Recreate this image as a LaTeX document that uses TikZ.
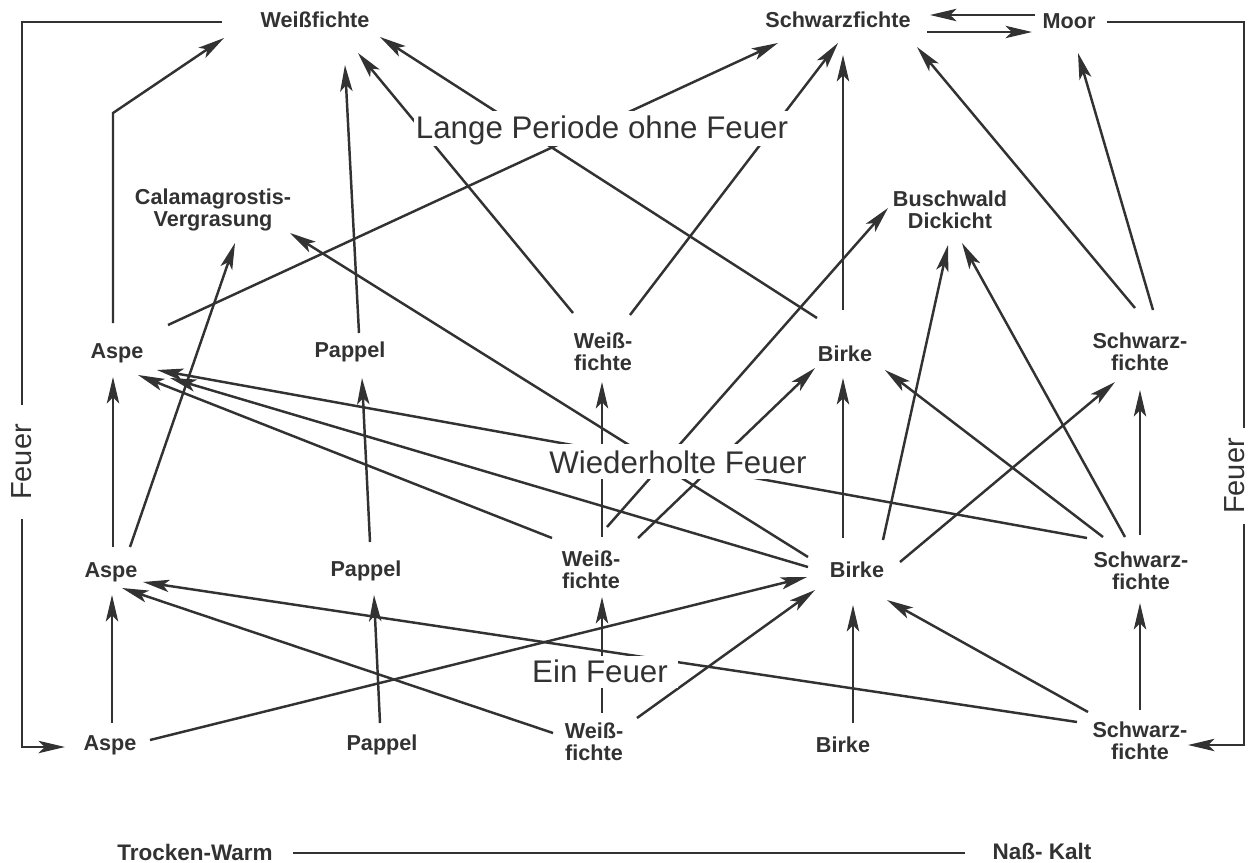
\documentclass[tikz,border=0pt]{standalone}
\usepackage{fontspec}
\setmainfont{Liberation Sans}
\usetikzlibrary{arrows.meta,backgrounds}
\definecolor{ink}{RGB}{50,50,50}
\begin{document}
\begin{tikzpicture}[x=0.02cm,y=-0.02cm,
  lbl/.style={font=\fontsize{12.3pt}{12.5pt}\selectfont\bfseries, text=ink, align=center, inner sep=0pt},
  big/.style={font=\fontsize{17.8pt}{20pt}\selectfont, text=ink, anchor=base, inner ysep=0pt, inner xsep=1pt, fill=white},
  side/.style={font=\fontsize{16.5pt}{20pt}\selectfont, text=ink, rotate=90, inner ysep=1pt, fill=white},
  edge/.style={draw=ink, line width=1.4pt},
  arr/.style={edge, -{Stealth[length=15pt,width=7pt,inset=3.5pt]}},
]
\useasboundingbox (0,0) rectangle (1249,863);

% top row
\node[lbl] (wtop) at (315,20) {Weißfichte};
\node[lbl] (stop) at (838,20) {Schwarzfichte};
\node[lbl] (moor) at (1069,21) {Moor};
\node[big, text height=15.3pt, text depth=4.5pt] (lp) at (602,138) {Lange Periode ohne Feuer};
\node[lbl] (cal) at (213,210) {Calamagrostis-\\Vergrasung};
\node[lbl] (busch) at (950,210) {Buschwald\\Dickicht};

% row 3
\node[lbl] (a3) at (117,353) {Aspe};
\node[lbl] (p3) at (350,352) {Pappel};
\node[lbl] (w3) at (603,352) {Weiß-\\fichte};
\node[lbl] (b3) at (845,354) {Birke};
\node[lbl] (s3) at (1140,352) {Schwarz-\\fichte};

\node[big, text height=16.5pt, text depth=3.4pt] (wf) at (678,473) {Wiederholte Feuer};

% row 2
\node[lbl] (a2) at (111,572) {Aspe};
\node[lbl] (p2) at (366,571) {Pappel};
\node[lbl] (w2) at (591,570) {Weiß-\\fichte};
\node[lbl] (b2) at (857,570) {Birke};
\node[lbl] (s2) at (1141,571) {Schwarz-\\fichte};

\node[big, text height=14.7pt, text depth=3.4pt, inner xsep=6pt] (ef) at (600,682) {Ein Feuer};

% row 1
\node[lbl] (a1) at (110,745) {Aspe};
\node[lbl] (p1) at (382,745) {Pappel};
\node[lbl] (w1) at (594,742) {Weiß-\\fichte};
\node[lbl] (b1) at (843,745) {Birke};
\node[lbl] (s1) at (1140,741) {Schwarz-\\fichte};

% side labels
\node[side, inner xsep=10.8pt] (feuerL) at (22,462) {Feuer};
\node[side, inner xsep=5.7pt] (feuerR) at (1235,476) {Feuer};

% axis
\node[lbl, font=\fontsize{12.8pt}{14pt}\selectfont\bfseries] (tw) at (195,852) {Trocken-Warm};
\node[lbl, font=\fontsize{12.8pt}{14pt}\selectfont\bfseries] (nk) at (1042,851) {Naß- Kalt};

\begin{scope}[on background layer]
\fill[white] (0,0) rectangle (1249,863);

% brackets
\draw[arr] ([shift={(-93,2)}]wtop.center) -| (feuerL) |- ([shift={(-45,2)}]a1.center);
\draw[arr] ([shift={(38,1)}]moor.center) -| ([xshift=5]feuerR.center) |- ([shift={(48,4)}]s1.center);
\draw[edge] ([shift={(98,1)}]tw.center) -- ([shift={(-77,2)}]nk.center);

% into top row
\draw[arr] ([shift={(-4,-30)}]a3.center) -- ++(0,-210) -- ([shift={(-91,18)}]wtop.center);
\draw[arr] ([shift={(9,-19)}]p3.center) -- ([shift={(30,45)}]wtop.center);
\draw[arr] ([shift={(-30,-39)}]w3.center) -- ([shift={(43,33)}]wtop.center);
\draw[arr] ([shift={(-28,-36)}]b3.center) -- ([shift={(65,17)}]wtop.center);
\draw[arr] ([shift={(51,-28)}]a3.center) -- ([shift={(-60,23)}]stop.center);
\draw[arr] ([shift={(27,-37)}]w3.center) -- ([shift={(0,23)}]stop.center);
\draw[arr] ([shift={(-2,-44)}]b3.center) -- ([shift={(5,35)}]stop.center);
\draw[arr] ([shift={(-5,-44)}]s3.center) -- ([shift={(79,27)}]stop.center);
\draw[arr] ([shift={(13,-42)}]s3.center) -- ([shift={(9,32)}]moor.center);
\draw[arr] ([shift={(-34,-6)}]moor.center) -- ([shift={(92,-5)}]stop.center);
\draw[arr] ([shift={(89,12)}]stop.center) -- ([shift={(-37,11)}]moor.center);

% row 2 -> row 3 and intermediate
\draw[arr] ([shift={(19,-25)}]a2.center) -- ([shift={(22,33)}]cal.center);
\draw[arr] ([shift={(-49,-13)}]b2.center) -- ([shift={(77,23)}]cal.center);
\draw[arr] ([shift={(16,-43)}]w2.center) -- ([shift={(-62,-2)}]busch.center);
\draw[arr] ([shift={(26,-30)}]b2.center) -- ([shift={(-2,35)}]busch.center);
\draw[arr] ([shift={(-16,-34)}]s2.center) -- ([shift={(12,33)}]busch.center);
\draw[arr] ([shift={(2,-25)}]a2.center) -- ([shift={(-4,24)}]a3.center);
\draw[arr] ([shift={(4,-29)}]p2.center) -- ([shift={(12,26)}]p3.center);
\draw[arr] ([shift={(11,-33)}]w2.center) -- ([shift={(-1,30)}]w3.center);
\draw[arr] ([shift={(-14,-32)}]b2.center) -- ([shift={(-2,24)}]b3.center);
\draw[arr] ([shift={(-1,-36)}]s2.center) -- ([shift={(0,38)}]s3.center);
\draw[arr] ([shift={(47,-32)}]w2.center) -- ([shift={(-30,14)}]b3.center);
\draw[arr] ([shift={(-38,-34)}]s2.center) -- ([shift={(40,16)}]b3.center);
\draw[arr] ([shift={(43,-8)}]b2.center) -- ([shift={(-25,30)}]s3.center);
\draw[arr] ([shift={(-54,-33)}]s2.center) -- ([shift={(40,17)}]a3.center);
\draw[arr] ([shift={(-49,-3)}]b2.center) -- ([shift={(53,25)}]a3.center);
\draw[arr] ([shift={(-39,-32)}]w2.center) -- ([shift={(21,22)}]a3.center);

% row 1 -> row 2
\draw[arr] ([shift={(2,-22)}]a1.center) -- ([shift={(1,23)}]a2.center);
\draw[arr] ([shift={(40,-5)}]a1.center) -- ([shift={(-50,7)}]b2.center);
\draw[arr] ([shift={(-63,-19)}]s1.center) -- ([shift={(32,10)}]a2.center);
\draw[arr] ([shift={(-41,-9)}]w1.center) -- ([shift={(11,16)}]a2.center);
\draw[arr] ([shift={(-2,-22)}]p1.center) -- ([shift={(8,24)}]p2.center);
\draw[arr] ([shift={(8,-29)}]w1.center) -- ([shift={(11,27)}]w2.center);
\draw[arr] ([shift={(43,-24)}]w1.center) -- ([shift={(-42,20)}]b2.center);
\draw[arr] ([shift={(10,-22)}]b1.center) -- ([shift={(-4,35)}]b2.center);
\draw[arr] ([shift={(-52,-29)}]s1.center) -- ([shift={(30,30)}]b2.center);
\draw[arr] ([shift={(0,-31)}]s1.center) -- ([shift={(-1,32)}]s2.center);
\end{scope}
\end{tikzpicture}
\end{document}
